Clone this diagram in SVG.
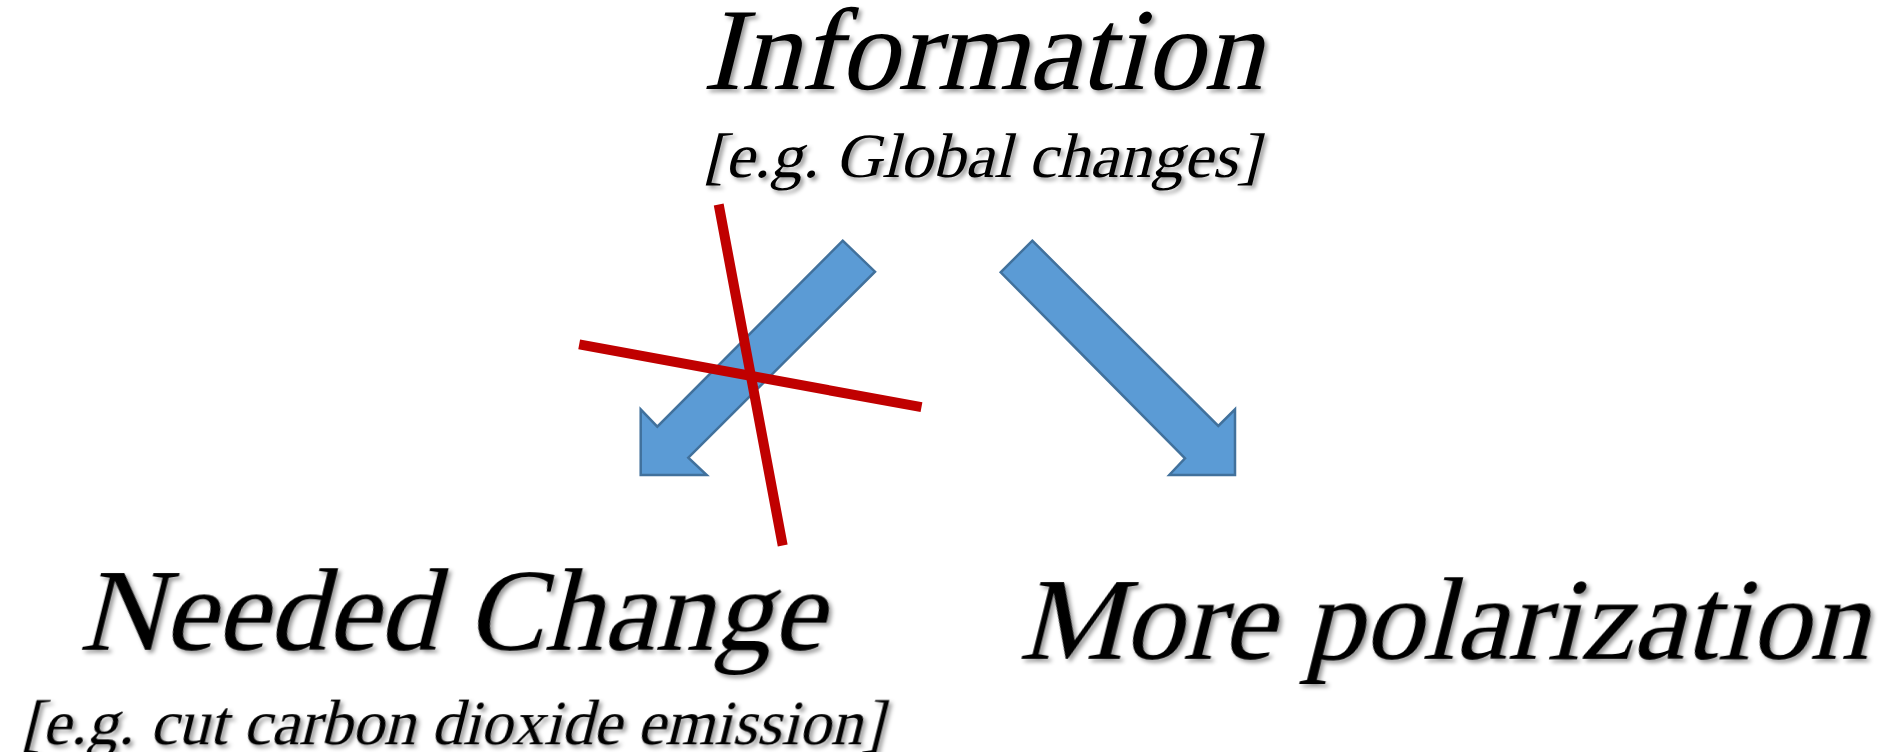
<svg xmlns="http://www.w3.org/2000/svg" width="1888" height="752" viewBox="0 0 1888 752">
<defs>
<filter id="sh" x="-10%" y="-20%" width="120%" height="140%">
<feDropShadow dx="3" dy="3" stdDeviation="2" flood-color="#000" flood-opacity="0.4"/>
</filter>
<style>
.t{font-family:"Liberation Serif","Times New Roman",serif;font-style:normal;fill:#000;text-anchor:middle}
.arrow{fill:#5B9BD5;stroke:#41719C;stroke-width:2.5;stroke-linejoin:miter}
.cross{stroke:#C00000;stroke-width:10;fill:none}
</style>
</defs>
<rect width="1888" height="752" fill="#fff"/>
<g filter="url(#sh)">
<g id="node-information">
<text class="t" font-size="117" transform="translate(982,89) skewX(-14)" textLength="560" lengthAdjust="spacingAndGlyphs">Information</text>
<text class="t" font-size="63" transform="translate(981,177) skewX(-14)" textLength="556" lengthAdjust="spacingAndGlyphs">[e.g. Global changes]</text>
</g>
<g id="node-needed-change">
<text class="t" font-size="118" transform="translate(451,650) skewX(-14)" textLength="745" lengthAdjust="spacingAndGlyphs">Needed Change</text>
<text class="t" font-size="63" transform="translate(452,744) skewX(-14)" textLength="862" lengthAdjust="spacingAndGlyphs">[e.g. cut carbon dioxide emission]</text>
</g>
<g id="node-more-polarization">
<text class="t" font-size="117" transform="translate(1443,659) skewX(-14)" textLength="850" lengthAdjust="spacingAndGlyphs">More polarization</text>
</g>
</g>
<g id="connectors">
<polygon class="arrow" points="842.7,240.7 875,271.7 688.3,457.7 706.7,475 640.7,475 640.7,409.3 657.3,426.7"/>
<polygon class="arrow" points="1032.3,240.7 1218.3,426 1235,409.3 1235,475 1169.3,475 1185,458.3 1000.7,272.3"/>
<line class="cross" x1="718.7" y1="204.5" x2="782.7" y2="545.5"/>
<line class="cross" x1="579.2" y1="344.4" x2="921.5" y2="407.2"/>
</g>
</svg>
